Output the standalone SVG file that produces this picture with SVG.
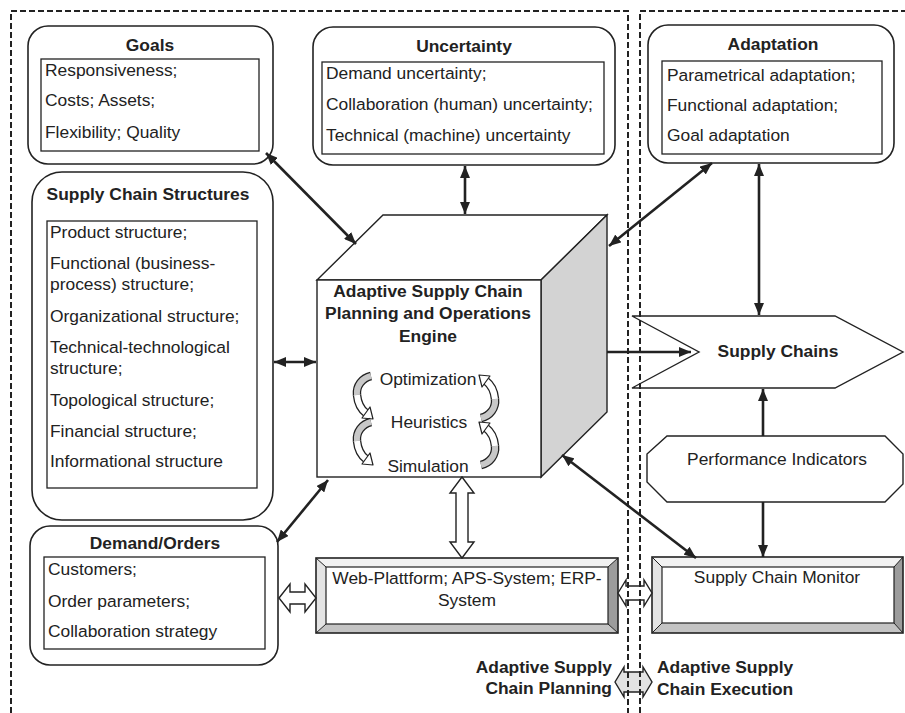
<svg xmlns="http://www.w3.org/2000/svg" xmlns:xlink="http://www.w3.org/1999/xlink" width="905" height="713" viewBox="0 0 905 713">
<style>
text{font-family:"Liberation Sans",Arial,sans-serif;font-size:17.4px;fill:#222}
.b{font-weight:bold}
.m{text-anchor:middle}
.e{text-anchor:end}
.rb{fill:#fff;stroke:#222;stroke-width:1.6}
.ib{fill:#fff;stroke:#222;stroke-width:1.3}
.ln{stroke:#222;stroke-width:2.6;fill:none}
.dash{stroke:#222;stroke-width:2;stroke-dasharray:6 3;fill:none}
.sh{stroke:#222;stroke-width:1.4}
</style>
<defs>
<marker id="ah" viewBox="0 0 12 10" refX="12" refY="5" markerWidth="12" markerHeight="10" markerUnits="userSpaceOnUse" orient="auto-start-reverse">
<path d="M0,0 L12,5 L0,10 z" fill="#222"/>
</marker>
<g id="curl">
<path d="M371,376 C362,378 356,386 357,395" stroke="#222" stroke-width="8.5" fill="none"/>
<path d="M357,395 C358,405 362,410 366,413" stroke="#222" stroke-width="8.5" fill="none"/>
<path d="M371,376 C362,378 356,386 357,395" stroke="#c8c8c8" stroke-width="6" fill="none"/>
<path d="M357,395 C358,405 362,410 366,413" stroke="#fff" stroke-width="6" fill="none"/>
<polygon points="373,419 362,418 370,407" fill="#fff" stroke="#222" stroke-width="1.2" stroke-linejoin="round"/>
</g>
</defs>

<g id="goals">
<rect class="rb" x="28" y="26" width="245" height="138" rx="20"/>
<text class="b m" x="150" y="51">Goals</text>
<rect class="ib" x="41" y="59" width="218" height="92"/>
<text x="45" y="76">Responsiveness;</text>
<text x="45" y="106">Costs; Assets;</text>
<text x="45" y="138">Flexibility; Quality</text>
</g>

<g id="uncertainty">
<rect class="rb" x="313" y="27" width="302" height="138" rx="20"/>
<text class="b m" x="464" y="52">Uncertainty</text>
<rect class="ib" x="322" y="62" width="282" height="92"/>
<text x="326" y="79">Demand uncertainty;</text>
<text x="326" y="110">Collaboration (human) uncertainty;</text>
<text x="326" y="141">Technical (machine) uncertainty</text>
</g>

<g id="adaptation">
<rect class="rb" x="648" y="25" width="246" height="138" rx="20"/>
<text class="b m" x="773" y="50">Adaptation</text>
<rect class="ib" x="662" y="61" width="220" height="93"/>
<text x="667" y="81">Parametrical adaptation;</text>
<text x="667" y="111">Functional adaptation;</text>
<text x="667" y="141">Goal adaptation</text>
</g>

<g id="structures">
<rect class="rb" x="32" y="172" width="241" height="348" rx="30"/>
<text class="b m" x="148" y="200">Supply Chain Structures</text>
<rect class="ib" x="47" y="221" width="210" height="267"/>
<text x="50" y="238">Product structure;</text>
<text x="50" y="269">Functional (business-</text>
<text x="50" y="290">process) structure;</text>
<text x="50" y="322">Organizational structure;</text>
<text x="50" y="353">Technical-technological</text>
<text x="50" y="374">structure;</text>
<text x="50" y="406">Topological structure;</text>
<text x="50" y="437">Financial structure;</text>
<text x="50" y="467">Informational structure</text>
</g>

<g id="demand">
<rect class="rb" x="30" y="526" width="248" height="139" rx="20"/>
<text class="b m" x="155" y="549">Demand/Orders</text>
<rect class="ib" x="44" y="557" width="221" height="92"/>
<text x="48" y="575">Customers;</text>
<text x="48" y="607">Order parameters;</text>
<text x="48" y="637">Collaboration strategy</text>
</g>

<g id="engine">
<polygon class="sh" points="317,280 383,215 607,215 541,280" fill="#fff"/>
<polygon class="sh" points="541,280 607,215 607,412 541,477" fill="#d3d3d3"/>
<rect class="sh" x="317" y="280" width="224" height="197" fill="#fff"/>
<text class="b m" x="428" y="297">Adaptive Supply Chain</text>
<text class="b m" x="428" y="319">Planning and Operations</text>
<text class="b m" x="428" y="342">Engine</text>
<text class="m" x="428" y="385">Optimization</text>
<text class="m" x="429" y="428">Heuristics</text>
<text class="m" x="428" y="472">Simulation</text>
<use xlink:href="#curl"/>
<use xlink:href="#curl" transform="translate(0,46)"/>
<use xlink:href="#curl" transform="matrix(-1,0,0,-1,852,794)"/>
<use xlink:href="#curl" transform="matrix(-1,0,0,-1,852,841)"/>
</g>

<g id="supply-chains">
<polygon class="sh" points="632,316 835,316 903,352 835,388 632,388 699,352" fill="#fff"/>
<text class="b m" x="778" y="357">Supply Chains</text>
</g>

<g id="performance-indicators">
<polygon class="sh" points="667,436 885,436 903,454 903,484 885,502 667,502 647,482 647,454" fill="#fff"/>
<text class="m" x="777" y="465">Performance Indicators</text>
</g>

<g id="web-platform">
<polygon points="316,558 618,558 608,567 326,567" fill="#f2f2f2"/>
<polygon points="316,558 326,567 326,624 316,633" fill="#e4e4e4"/>
<polygon points="618,558 618,633 608,624 608,567" fill="#9c9c9c"/>
<polygon points="316,633 618,633 608,624 326,624" fill="#c4c4c4"/>
<path d="M316,558 L326,567 M618,558 L608,567 M316,633 L326,624 M618,633 L608,624" stroke="#222" stroke-width="1"/>
<rect x="326" y="567" width="282" height="57" fill="#fff" stroke="#222" stroke-width="1.2"/>
<rect x="316" y="558" width="302" height="75" fill="none" stroke="#222" stroke-width="1.6"/>
<text class="m" x="467" y="584">Web-Plattform; APS-System; ERP-</text>
<text class="m" x="467" y="606">System</text>
</g>

<g id="monitor">
<polygon points="652,557 903,557 894,567 662,567" fill="#f2f2f2"/>
<polygon points="652,557 662,567 662,623 652,633" fill="#e4e4e4"/>
<polygon points="903,557 903,633 894,623 894,567" fill="#9c9c9c"/>
<polygon points="652,633 903,633 894,623 662,623" fill="#c4c4c4"/>
<path d="M652,557 L662,567 M903,557 L894,567 M652,633 L662,623 M903,633 L894,623" stroke="#222" stroke-width="1"/>
<rect x="662" y="567" width="232" height="56" fill="#fff" stroke="#222" stroke-width="1.2"/>
<rect x="652" y="557" width="251" height="76" fill="none" stroke="#222" stroke-width="1.6"/>
<text class="m" x="777" y="583">Supply Chain Monitor</text>
</g>

<g id="labels">
<text class="b e" x="612" y="673">Adaptive Supply</text>
<text class="b e" x="612" y="694">Chain Planning</text>
<text class="b" x="657" y="673">Adaptive Supply</text>
<text class="b" x="657" y="695">Chain Execution</text>
</g>

<g id="connectors">
<line class="ln" x1="266" y1="153" x2="356" y2="244" marker-start="url(#ah)" marker-end="url(#ah)"/>
<line class="ln" x1="465" y1="166" x2="465" y2="214" marker-start="url(#ah)" marker-end="url(#ah)"/>
<line class="ln" x1="609" y1="246" x2="712" y2="163" marker-start="url(#ah)" marker-end="url(#ah)"/>
<line class="ln" x1="759" y1="164" x2="759" y2="315" marker-start="url(#ah)" marker-end="url(#ah)"/>
<line class="ln" x1="274" y1="362" x2="316" y2="362" marker-start="url(#ah)" marker-end="url(#ah)"/>
<line class="ln" x1="277" y1="542" x2="328" y2="480" marker-start="url(#ah)" marker-end="url(#ah)"/>
<line class="ln" x1="607" y1="352" x2="691" y2="352" marker-end="url(#ah)"/>
<line class="ln" x1="562" y1="455" x2="696" y2="558" marker-start="url(#ah)" marker-end="url(#ah)"/>
<line class="ln" x1="763" y1="436" x2="763" y2="389" marker-end="url(#ah)"/>
<line class="ln" x1="763" y1="502" x2="763" y2="557" marker-end="url(#ah)"/>
<polygon class="sh" fill="#fff" points="462,477 474,493 468,493 468,542 474,542 462,558 450,542 456,542 456,493 450,493"/>
<polygon class="sh" fill="#fff" points="279,598 290,584 290,592 305,592 305,584 316,598 305,612 305,604 290,604 290,612"/>
<polygon class="sh" fill="#fff" points="618,593 626,580 626,586 644,586 644,580 652,593 644,606 644,600 626,600 626,606"/>
<polygon class="sh" fill="#e2e2e2" points="615,682 624,667 624,672 643,672 643,667 652,682 643,697 643,692 624,692 624,697"/>
</g>

<g id="regions">
<path class="dash" d="M11,713 L11,11 L628,11 L628,713"/>
<path class="dash" d="M640,713 L640,11 L905,11"/>
</g>
</svg>
